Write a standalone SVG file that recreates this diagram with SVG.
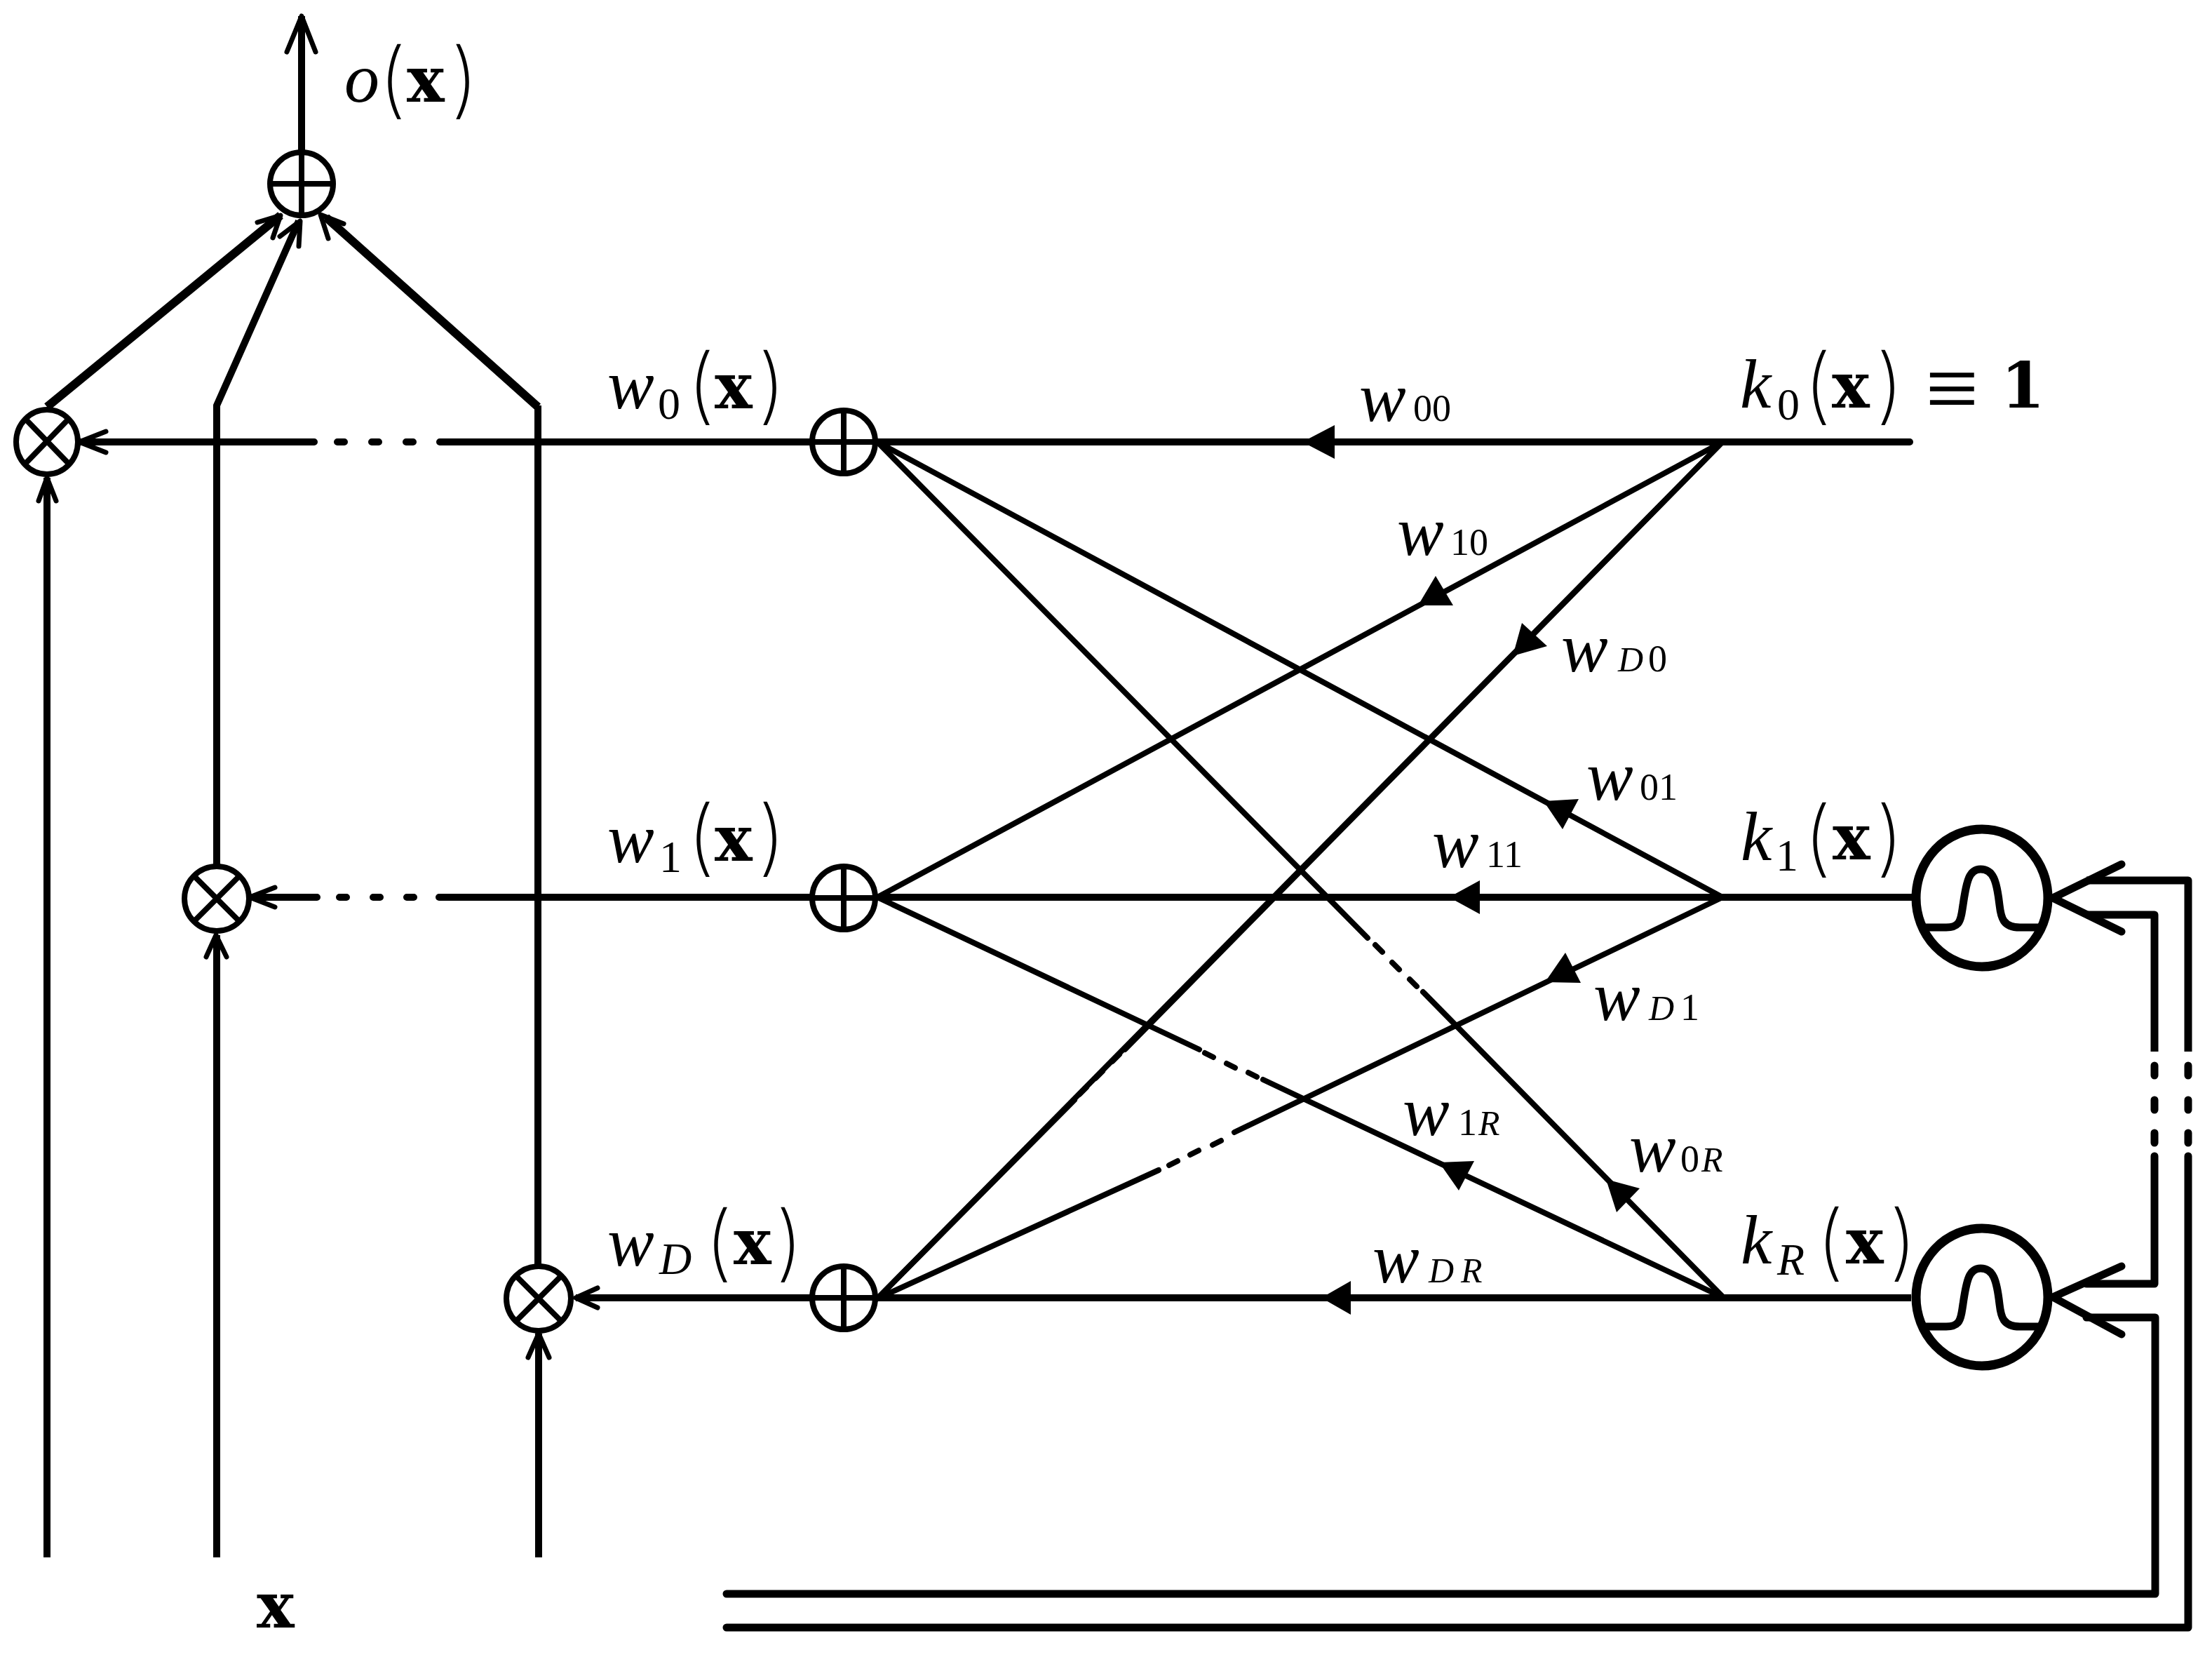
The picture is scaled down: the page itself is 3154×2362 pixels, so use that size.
<svg xmlns="http://www.w3.org/2000/svg" width="3154" height="2362" viewBox="0 0 3154 2362">
<style>
.l{fill:none;stroke:#000;stroke-width:10;stroke-linecap:butt;stroke-linejoin:miter}
.t{stroke-width:12}
.d{stroke-width:8}
.r{stroke-linecap:round}
.n{fill:none;stroke:#000;stroke-width:8}
.a{fill:none;stroke:#000;stroke-width:7;stroke-linecap:round;stroke-linejoin:round}
.h{fill:#000;stroke:none}
.k{fill:none;stroke:#000;stroke-width:13}
.b{fill:none;stroke:#000;stroke-width:11;stroke-linejoin:round}
.c{fill:none;stroke:#000;stroke-width:11;stroke-linejoin:round;stroke-linecap:round}
text{font-family:"Liberation Serif","Times New Roman",serif;fill:#000}
.i{font-size:100px;font-style:italic}
.p{font-family:"Inter","Liberation Sans",sans-serif;font-weight:200;font-size:118px}
.x{font-family:"DejaVu Serif",serif;font-weight:bold;font-size:90px}
.s{font-size:64px}
.si{font-size:64px;font-style:italic}
.e{font-size:135px}
.ws{font-size:54px}
.wsi{font-size:50px;font-style:italic}
</style>
<rect width="3154" height="2362" fill="#fff"/>
<g id="connectors">
<path class="l" d="M430 23V215"/>
<path class="a" d="M409 74L430 23L450 74"/>
<path class="l t" d="M67 580L400 307"/>
<path class="a" d="M367 317L400 307L389 339"/>
<path class="l" d="M309 1233V578L426 315"/>
<path class="a" d="M399 337L428 315L426 351"/>
<path class="l" d="M767 1803V578"/><path class="l t" d="M767 580L465 310"/>
<path class="a" d="M490 319L457 306L468 340"/>
<path class="l" d="M67 2220V681"/>
<path class="a" d="M55 714L67 681L80 714"/>
<path class="l" d="M309 2220V1333"/>
<path class="a" d="M294 1364L308 1333L323 1364"/>
<path class="l" d="M768 2220V1901"/>
<path class="a" d="M753 1935L768 1901L783 1935"/>
<path class="l r" d="M115 630H448M481 630H491M530 630H540M579 630H589M627 630H1155"/>
<path class="a" d="M151 615L113 630L151 645"/>
<path class="l r" d="M356 1279H452M484 1279H494M532 1279H542M580 1279H590M626 1279H1155"/>
<path class="a" d="M392 1265L356 1279L392 1293"/>
<path class="l" d="M821 1850H1155"/>
<path class="a" d="M852 1836L821 1850L852 1864"/>
<path class="l" d="M1251 630H2723"/><path class="l r" d="M2722 630H2723"/>
<path class="l" d="M1251 1279H2730"/>
<path class="l" d="M1251 1850H2725"/>
<polygon class="h" points="1857,630 1903,606 1903,654"/>
<polygon class="h" points="2066,1279 2110,1255 2110,1303"/>
<polygon class="h" points="1884,1850 1926,1826 1926,1874"/>
<path class="l d" d="M2456 630L1251 1279"/>
<polygon class="h" points="2022,863 2047,821 2072,863"/>
<path class="l d" d="M2456 630L1251 1851"/>
<polygon class="h" points="2157,935 2170,888 2206,921"/>
<path class="l d" d="M1251 630L2456 1279"/>
<polygon class="h" points="2201,1142 2251,1139 2228,1182"/>
<path class="l d r" d="M1251 630L1950 1337M1961 1347L1971 1357M1985 1372L1995 1382M2010 1396L2020 1406M2029 1414L2458 1850"/>
<polygon class="h" points="2290,1681 2338,1694 2305,1728"/>
<path class="l d r" d="M1251 1279L1710 1496M1718 1501L1730 1507M1749 1516L1761 1522M1780 1529L1792 1535M1801 1539L2458 1850"/>
<polygon class="h" points="2052,1657 2102,1655 2080,1697"/>
<path class="l d r" d="M2456 630L1604 1496M1596 1503L1586 1513M1572 1527L1562 1537M1549 1550L1539 1560M1532 1568L1251 1851"/>
<path class="l d r" d="M2456 1279L1760 1614M1741 1626L1729 1632M1709 1640L1697 1646M1679 1655L1667 1661M1652 1668L1251 1851"/>
<polygon class="h" points="2203,1400 2232,1358 2254,1401"/>
<path class="c" d="M3025 1232L2927 1280L3025 1328"/>
<path class="b" d="M2975 1255H3120V1499"/>
<path class="b" d="M2975 1304H3072V1499"/>
<path class="c" d="M3072 1519V1533M3072 1568V1582M3072 1615V1629M3120 1519V1533M3120 1568V1582M3120 1615V1629"/>
<path class="c" d="M3025 1805L2927 1849L3025 1902"/>
<path class="c" d="M3072 1648V1830H2975"/>
<path class="c" d="M2975 1878H3073V2272H1036"/>
<path class="c" d="M3120 1648V2320H1036"/>
</g>
<g id="sum-output"><circle class="n" cx="430" cy="262" r="45"/><path class="l d" d="M385 262H475M430 215V307"/></g>
<g id="mult-0"><ellipse class="n" cx="67" cy="630" rx="44" ry="46"/><path class="l d" d="M36 597L98 661M98 597L36 661"/></g>
<g id="mult-1"><circle class="n" cx="309" cy="1281" r="46"/><path class="l d" d="M278 1250L340 1312M340 1250L278 1312"/></g>
<g id="mult-D"><circle class="n" cx="768" cy="1851" r="46"/><path class="l d" d="M737 1820L799 1882M799 1820L737 1882"/></g>
<g id="sum-0"><circle class="n" cx="1203" cy="630" r="45"/><path class="l d" d="M1203 585V675M1158 630H1248"/></g>
<g id="sum-1"><circle class="n" cx="1203" cy="1280" r="45"/><path class="l d" d="M1203 1235V1325M1158 1280H1248"/></g>
<g id="sum-D"><circle class="n" cx="1203" cy="1850" r="45"/><path class="l d" d="M1203 1805V1895M1158 1850H1248"/></g>
<g id="kernel-1"><ellipse class="k" cx="2826" cy="1280" rx="94" ry="98"/><path class="b" d="M2741 1322H2775C2797 1322 2796 1308 2799 1290C2804 1255 2808 1239 2824 1239C2842 1239 2847 1255 2851 1290C2853 1308 2856 1322 2880 1322H2910"/></g>
<g id="kernel-R"><ellipse class="k" cx="2826" cy="1849" rx="94" ry="98"/><path class="b" d="M2741 1891H2775C2797 1891 2796 1877 2799 1859C2804 1824 2808 1808 2824 1808C2842 1808 2847 1824 2851 1859C2853 1877 2856 1891 2880 1891H2910"/></g>
<g id="labels">
<text><tspan class="i" x="491" y="145">o</tspan><tspan class="p" x="540" y="154">(</tspan><tspan class="x" x="580" y="145">x</tspan><tspan class="p" x="643" y="154">)</tspan></text>
<text><tspan class="i" x="866" y="582">w</tspan><tspan class="s" x="938" y="597">0</tspan><tspan class="p" x="980" y="590">(</tspan><tspan class="x" x="1019" y="582">x</tspan><tspan class="p" x="1081" y="590">)</tspan></text>
<text><tspan class="i" x="866" y="1229">w</tspan><tspan class="s" x="940" y="1243">1</tspan><tspan class="p" x="980" y="1234">(</tspan><tspan class="x" x="1019" y="1227">x</tspan><tspan class="p" x="1081" y="1234">)</tspan></text>
<text><tspan class="i" x="866" y="1804">w</tspan><tspan class="si" x="940" y="1816">D</tspan><tspan class="p" x="1005" y="1812">(</tspan><tspan class="x" x="1046" y="1802">x</tspan><tspan class="p" x="1106" y="1812">)</tspan></text>
<text><tspan class="i" x="2481" y="581">k</tspan><tspan class="s" x="2534" y="598">0</tspan><tspan class="p" x="2572" y="590">(</tspan><tspan class="x" x="2612" y="581">x</tspan><tspan class="p" x="2675" y="590">)</tspan><tspan class="e" x="2745" y="599">≡</tspan><tspan class="x" x="2853" y="581">1</tspan></text>
<text><tspan class="i" x="2482" y="1226">k</tspan><tspan class="s" x="2532" y="1241">1</tspan><tspan class="p" x="2572" y="1235">(</tspan><tspan class="x" x="2613" y="1225">x</tspan><tspan class="p" x="2675" y="1235">)</tspan></text>
<text><tspan class="i" x="2482" y="1801">k</tspan><tspan class="si" x="2534" y="1817">R</tspan><tspan class="p" x="2590" y="1811">(</tspan><tspan class="x" x="2632" y="1801">x</tspan><tspan class="p" x="2694" y="1811">)</tspan></text>
<text class="x" x="366" y="2320">x</text>
<text><tspan class="i" x="1938" y="600">w</tspan><tspan class="ws" x="2015" y="600">00</tspan></text>
<text><tspan class="i" x="1992" y="791">w</tspan><tspan class="ws" x="2068" y="791">10</tspan></text>
<text><tspan class="i" x="2226" y="957">w</tspan><tspan class="wsi" x="2307" y="957">D</tspan><tspan class="ws" x="2350" y="957">0</tspan></text>
<text><tspan class="i" x="2262" y="1140">w</tspan><tspan class="ws" x="2338" y="1140">01</tspan></text>
<text><tspan class="i" x="2042" y="1236">w</tspan><tspan class="ws" x="2119" y="1236">11</tspan></text>
<text><tspan class="i" x="2272" y="1454">w</tspan><tspan class="wsi" x="2351" y="1454">D</tspan><tspan class="ws" x="2396" y="1454">1</tspan></text>
<text><tspan class="i" x="2000" y="1618">w</tspan><tspan class="ws" x="2079" y="1618">1</tspan><tspan class="wsi" x="2108" y="1618">R</tspan></text>
<text><tspan class="i" x="2323" y="1670">w</tspan><tspan class="ws" x="2396" y="1670">0</tspan><tspan class="wsi" x="2426" y="1670">R</tspan></text>
<text><tspan class="i" x="1957" y="1828">w</tspan><tspan class="wsi" x="2037" y="1828">D</tspan><tspan class="wsi" x="2083" y="1828">R</tspan></text>
</g>
</svg>
